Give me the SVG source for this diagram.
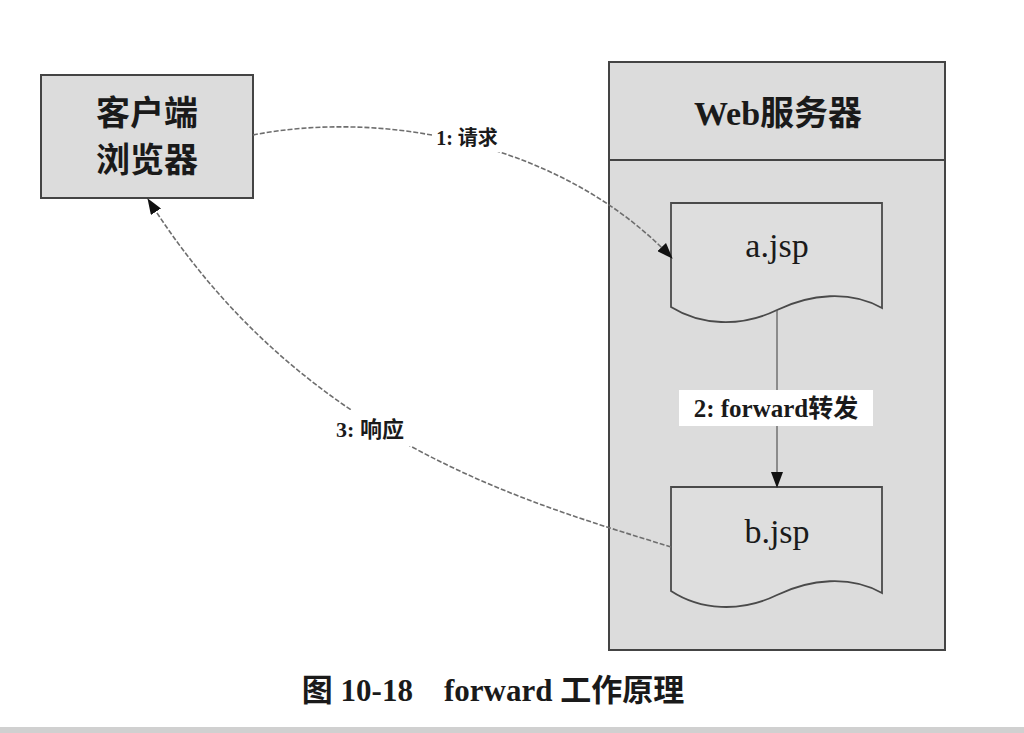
<svg xmlns="http://www.w3.org/2000/svg" width="1024" height="733" viewBox="0 0 1024 733">
  <style>
    .box { fill: #dcdcdc; stroke: #444; stroke-width: 2; }
    .doc { fill: #dedede; stroke: #4a4a4a; stroke-width: 1.8; }
    .t { font-family: "Liberation Serif", "Noto Sans CJK SC", serif; fill: #1a1a1a; text-anchor: middle; }
    .big { font-size: 34px; font-weight: bold; }
    .jsp { font-size: 34px; font-weight: normal; }
    .lbl { font-size: 20px; font-weight: bold; }
    .conn { fill: none; stroke: #6e6e6e; stroke-width: 1.6; stroke-dasharray: 5 2; }
    .fwd { fill: none; stroke: #555; stroke-width: 1.2; }
  </style>
  <defs>
    <marker id="arr" markerWidth="16" markerHeight="12" refX="15" refY="6" orient="auto" markerUnits="userSpaceOnUse">
      <path d="M0,0 L16,6 L0,12 Z" fill="#111"/>
    </marker>
  </defs>

  <rect x="0" y="727" width="1024" height="6" fill="#d0d0d0"/>

  <g id="client">
    <rect class="box" x="41" y="75" width="212" height="123"/>
    <text class="t big" x="147" y="125">客户端</text>
    <text class="t big" x="147" y="172">浏览器</text>
  </g>

  <g id="server">
    <rect class="box" x="609" y="62" width="336" height="588"/>
    <line x1="609" y1="160" x2="945" y2="160" stroke="#444" stroke-width="2"/>
    <text class="t big" x="778" y="125">Web服务器</text>
  </g>

  <g id="a-jsp">
    <path class="doc" d="M671,203 H882 V308 C850,290 810,294 777,310 C740,328 700,325 671,307 Z"/>
    <text class="t jsp" x="777" y="257">a.jsp</text>
  </g>

  <g id="b-jsp">
    <path class="doc" d="M671,487 H882 V593 C850,575 810,579 777,595 C740,613 700,610 671,591 Z"/>
    <text class="t jsp" x="777" y="543">b.jsp</text>
  </g>

  <g id="connectors">
    <path class="conn" d="M253,135 C380,110 560,140 672,258" marker-end="url(#arr)"/>
    <rect x="432" y="124" width="72" height="28" fill="#fff"/>
    <text class="t lbl" x="467" y="145">1: 请求</text>

    <line class="fwd" x1="777" y1="310" x2="777" y2="487" marker-end="url(#arr)"/>
    <rect x="679" y="390" width="194" height="36" fill="#fff"/>
    <text class="t lbl" x="776" y="417" style="font-size:25px">2: forward转发</text>

    <path class="conn" d="M671,547 C520,500 300,440 148,199" marker-end="url(#arr)"/>
    <rect x="324" y="410" width="94" height="36" fill="#fff"/>
    <text class="t lbl" x="370" y="437" style="font-size:22px">3: 响应</text>
  </g>

  <text class="t" x="493" y="701" style="font-size:31px; font-weight:bold" xml:space="preserve">图 10-18    forward 工作原理</text>
</svg>
